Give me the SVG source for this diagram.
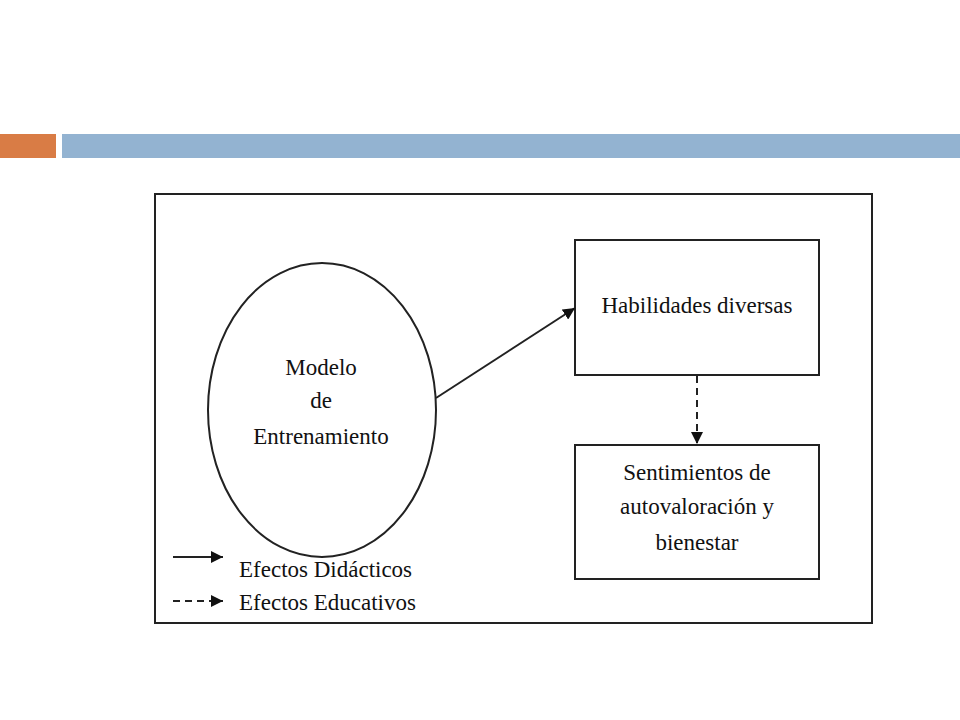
<svg xmlns="http://www.w3.org/2000/svg" width="960" height="720" viewBox="0 0 960 720">
<style>
text{font-family:"Liberation Serif","Times New Roman",serif;font-size:23px;fill:#111;text-anchor:middle}
.shape{fill:#fff;stroke:#222;stroke-width:2}
.conn{stroke:#222;stroke-width:2;fill:none}
.dash{stroke-dasharray:7,5}
</style>
<defs>
<marker id="ah" viewBox="0 0 10 10" refX="10" refY="5" markerWidth="7" markerHeight="7" orient="auto" markerUnits="userSpaceOnUse">
<path d="M0,0 L10,5 L0,10 z" fill="#111"/>
</marker>
<marker id="ahL" viewBox="0 0 10 10" refX="10" refY="5" markerWidth="12" markerHeight="12" orient="auto" markerUnits="userSpaceOnUse">
<path d="M0,0 L10,5 L0,10 z" fill="#111"/>
</marker>
</defs>
<rect width="960" height="720" fill="#fff"/>
<g id="header">
<rect x="0" y="134" width="56" height="24" fill="#d97c45"/>
<rect x="62" y="134" width="898" height="24" fill="#93b3d1"/>
</g>
<g id="frame">
<rect x="155" y="194" width="717" height="429" fill="#fff" stroke="#222" stroke-width="2"/>
</g>
<g id="modelo">
<ellipse class="shape" cx="322" cy="410" rx="114" ry="147"/>
<text x="321" y="375">Modelo</text>
<text x="321" y="408">de</text>
<text x="321" y="444">Entrenamiento</text>
</g>
<g id="habilidades">
<rect class="shape" x="575" y="240" width="244" height="135"/>
<text x="697" y="313">Habilidades diversas</text>
</g>
<g id="sentimientos">
<rect class="shape" x="575" y="445" width="244" height="134"/>
<text x="697" y="480">Sentimientos de</text>
<text x="697" y="514">autovaloración y</text>
<text x="697" y="550">bienestar</text>
</g>
<g id="connectors">
<line class="conn" x1="436" y1="398" x2="575" y2="308" marker-end="url(#ahL)"/>
<line class="conn dash" x1="697" y1="376" x2="697" y2="444" marker-end="url(#ahL)"/>
</g>
<g id="legend">
<line class="conn" x1="173" y1="557" x2="223" y2="557" marker-end="url(#ahL)"/>
<text x="239" y="577" style="text-anchor:start">Efectos Didácticos</text>
<line class="conn dash" x1="173" y1="601" x2="223" y2="601" marker-end="url(#ahL)"/>
<text x="239" y="610" style="text-anchor:start">Efectos Educativos</text>
</g>
</svg>
